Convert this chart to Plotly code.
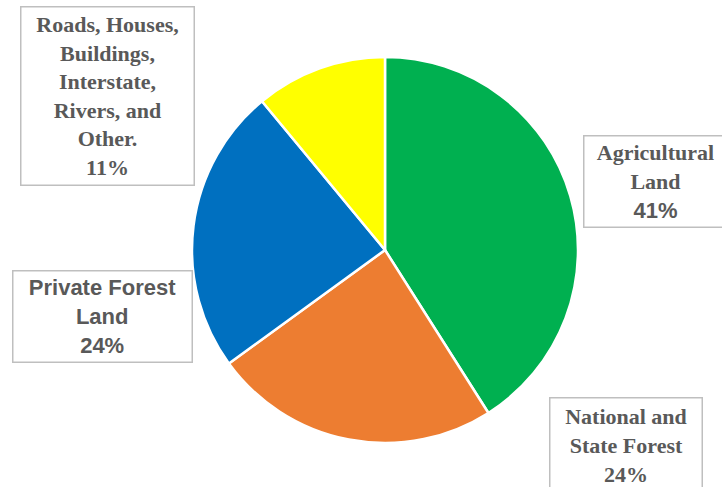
import plotly.graph_objects as go

categories = ["Agricultural Land", "National and State Forest", "Private Forest Land",
              "Roads, Houses, Buildings, Interstate, Rivers, and Other."]
values = [41, 24, 24, 11]
colors = ["#00B050", "#ED7D31", "#0070C0", "#FFFF00"]

W, H = 722, 487
cx, cy, r = 385, 250, 193

fig = go.Figure(go.Pie(
    labels=categories, values=values, sort=False, direction="clockwise", rotation=0,
    marker=dict(colors=colors, line=dict(color="white", width=2.5)),
    textinfo="none", hoverinfo="label+percent", showlegend=False,
    domain=dict(x=[(cx - r) / W, (cx + r) / W], y=[1 - (cy + r) / H, 1 - (cy - r) / H]),
))

serif = "Liberation Serif, Times New Roman, serif"
sans = "Liberation Sans, Arial, sans-serif"
txt = "#595959"

def box(text, left, top, w, h, family):
    fig.add_annotation(
        text=text, xref="paper", yref="paper", x=left / W, y=1 - top / H,
        xanchor="left", yanchor="top", showarrow=False, align="center",
        width=w, height=h, borderpad=0, bordercolor="#BFBFBF", borderwidth=1.5,
        bgcolor="white", font=dict(family=family, size=22, color=txt, weight="bold"),
    )

pct = [f"{v}%" for v in values]
box("Roads, Houses,<br>Buildings,<br>Interstate,<br>Rivers, and<br>Other.<br>" + pct[3],
    20, 6, 172, 177, serif)
box("Agricultural<br>Land<br><span style='font-family:Liberation Sans, Arial, sans-serif'>" + pct[0] + "</span>",
    583, 135, 142, 90, serif)
box("Private Forest<br>Land<br>" + pct[2], 12, 270, 178, 90, sans)
box("National and<br>State Forest<br>" + pct[1], 549, 397, 151, 94, serif)

fig.update_layout(width=W, height=H, margin=dict(l=0, r=0, t=0, b=0),
                  paper_bgcolor="white", plot_bgcolor="white")
fig.write_html("out.html", config={"displayModeBar": False},
               post_script="document.body.style.margin='0';")
